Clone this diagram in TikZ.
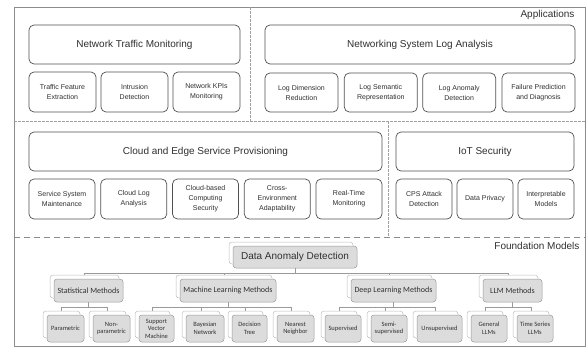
\documentclass[tikz,border=0pt]{standalone}
\usepackage{fontspec}
\setmainfont{Liberation Sans}
\newfontfamily\treefont{Carlito}
\usetikzlibrary{backgrounds}
\definecolor{boxline}{HTML}{505050}
\definecolor{frameline}{HTML}{8C8C8C}
\definecolor{dashline}{HTML}{A0A0A0}
\definecolor{treefill}{HTML}{DCDCDC}
\definecolor{treeline}{HTML}{9A9A9A}
\definecolor{backline}{HTML}{BDBDBD}
\definecolor{txt}{HTML}{303030}

\begin{document}
\begin{tikzpicture}[x=1pt, y=-1pt,
    appbig/.style={draw=boxline, line width=0.7pt, rounded corners=5pt, fill=white,
                   inner sep=1pt, text=txt, font=\fontsize{10}{12}\selectfont},
    appsub/.style={appbig, align=center, font=\fontsize{7}{10}\selectfont},
    treeback/.style={draw=backline, fill=white, rounded corners=3pt, line width=0.5pt, inner sep=0pt},
    treefront/.style={draw=treeline, fill=treefill, rounded corners=3pt, line width=0.5pt,
                      inner sep=1pt, align=center, text=txt, font=\treefont\fontsize{6.5}{7.5}\selectfont},
    treelink/.style={draw=treeline, line width=0.5pt},
    sepline/.style={dashline, dash pattern=on 2.5pt off 1.5pt, line width=0.6pt}]
    \useasboundingbox (0,0) rectangle (588,349);
    % --- Moldura e divisores ---
    \draw[frameline, line width=1pt] (14,7) rectangle (585,346);
    \draw[sepline] (14,121) -- (585,121);
    \draw[sepline] (250,7) -- (250,121);
    \draw[sepline] (388,121) -- (388,237);
    \draw[frameline, line width=1pt, dash pattern=on 6pt off 4pt] (14,237) -- (585,237);
    \node[anchor=east, text=txt, font=\fontsize{10}{12}\selectfont] (applbl) at (578,15) {Applications};
    \node[anchor=east, text=txt, font=\fontsize{10}{12}\selectfont] (fmlbl) at (583,246) {Foundation Models};
    % --- Network Traffic Monitoring ---
    \node[appbig, minimum width=211pt, minimum height=39pt] (ntm) at (134.5,44.5) {Network Traffic Monitoring};
    \foreach \n/\x/\t in {tfe/62.5/{Traffic Feature\\Extraction}, intr/134.5/{Intrusion\\Detection},
                          kpi/206.5/{Network KPIs\\Monitoring}} {
      \node[appsub, minimum width=67pt, minimum height=40pt] (\n) at (\x,92) {\t};
    }
    % --- Networking System Log Analysis ---
    \node[appbig, minimum width=310pt, minimum height=39pt] (nsla) at (420,44.5) {Networking System Log Analysis};
    \foreach \n/\x/\t in {ldr/301.5/{Log Dimension\\Reduction}, lsr/380.8/{Log Semantic\\Representation},
                          lad/459.2/{Log Anomaly\\Detection}, fpd/538.5/{Failure Prediction\\and Diagnosis}} {
      \node[appsub, minimum width=73pt, minimum height=39pt] (\n) at (\x,92.5) {\t};
    }
    % --- Cloud and Edge Service Provisioning ---
    \node[appbig, minimum width=353pt, minimum height=39pt] (cesp) at (205.5,151.5) {Cloud and Edge Service Provisioning};
    \foreach \n/\x/\t in {ssm/62/{Service System\\Maintenance}, cla/133.75/{Cloud Log\\Analysis},
                          cbcs/205.5/{Cloud-based\\Computing\\Security}, cea/277.25/{Cross-\\Environment\\Adaptability},
                          rtm/349/{Real-Time\\Monitoring}} {
      \node[appsub, minimum width=66pt, minimum height=40pt] (\n) at (\x,199) {\t};
    }
    % --- IoT Security ---
    \node[appbig, minimum width=178pt, minimum height=39pt] (iot) at (485,151.5) {IoT Security};
    \foreach \n/\x/\t in {cps/424/{CPS Attack\\Detection}, dpr/485/{Data Privacy},
                          imod/546/{Interpretable\\Models}} {
      \node[appsub, minimum width=56pt, minimum height=40pt] (\n) at (\x,199) {\t};
    }
    % --- Arvore: Data Anomaly Detection ---
    \node[treeback, minimum width=124pt, minimum height=22pt] (dadb) at (291,253) {};
    \node[treefront, minimum width=124pt, minimum height=22pt,
          font=\fontsize{10}{12}\selectfont] (dad) at (295,257) {Data Anomaly Detection};
    \foreach \n/\x/\w/\t in {stat/84.5/69/{Statistical Methods}, mlm/224/96/{Machine Learning Methods},
                             dlm/389.5/85/{Deep Learning Methods}, llm/508.5/59/{LLM Methods}} {
      \node[treeback, minimum width=\w pt, minimum height=23pt] (\n b) at (\x,286.5) {};
      \node[treefront, minimum width=\w pt, minimum height=23pt,
            font=\treefont\fontsize{8}{9.5}\selectfont] (\n) at ({\x+4},290.5) {\t};
    }
    \foreach \n/\x/\w/\t in {para/61.5/37/{Parametric}, npara/107.5/37/{Non-\\parametric},
                             svm/152.5/35/{Support\\Vector\\Machine}, bayes/201/38/{Bayesian\\Network},
                             dtree/245.5/35/{Decision\\Tree}, nn/291.5/37/{Nearest\\Neighbor},
                             sup/339/36/{Supervised}, semi/385/36/{Semi-\\supervised},
                             unsup/435.5/45/{Unsupervised}, gen/485/36/{General\\LLMs},
                             tsl/531/36/{Time Series\\LLMs}} {
      \node[treeback, minimum width=\w pt, minimum height=27pt] (\n b) at (\x,324.5) {};
      \node[treefront, minimum width=\w pt, minimum height=27pt] (\n) at ({\x+4},328.5) {\t};
    }
    % Conexoes
    \begin{scope}[on background layer]
      \foreach \c in {statb, mlmb, dlmb, llmb} { \draw[treelink] (dad.south) -- ++(0,5) -| (\c.north); }
      \foreach \c in {parab, nparab} { \draw[treelink] (stat.south) -- ++(0,5) -| (\c.north); }
      \foreach \c in {svmb, bayesb, dtreeb, nnb} { \draw[treelink] (mlm.south) -- ++(0,5) -| (\c.north); }
      \foreach \c in {supb, semib, unsupb} { \draw[treelink] (dlm.south) -- ++(0,5) -| (\c.north); }
      \foreach \c in {genb, tslb} { \draw[treelink] (llm.south) -- ++(0,5) -| (\c.north); }
    \end{scope}
  \end{tikzpicture}
\end{document}
